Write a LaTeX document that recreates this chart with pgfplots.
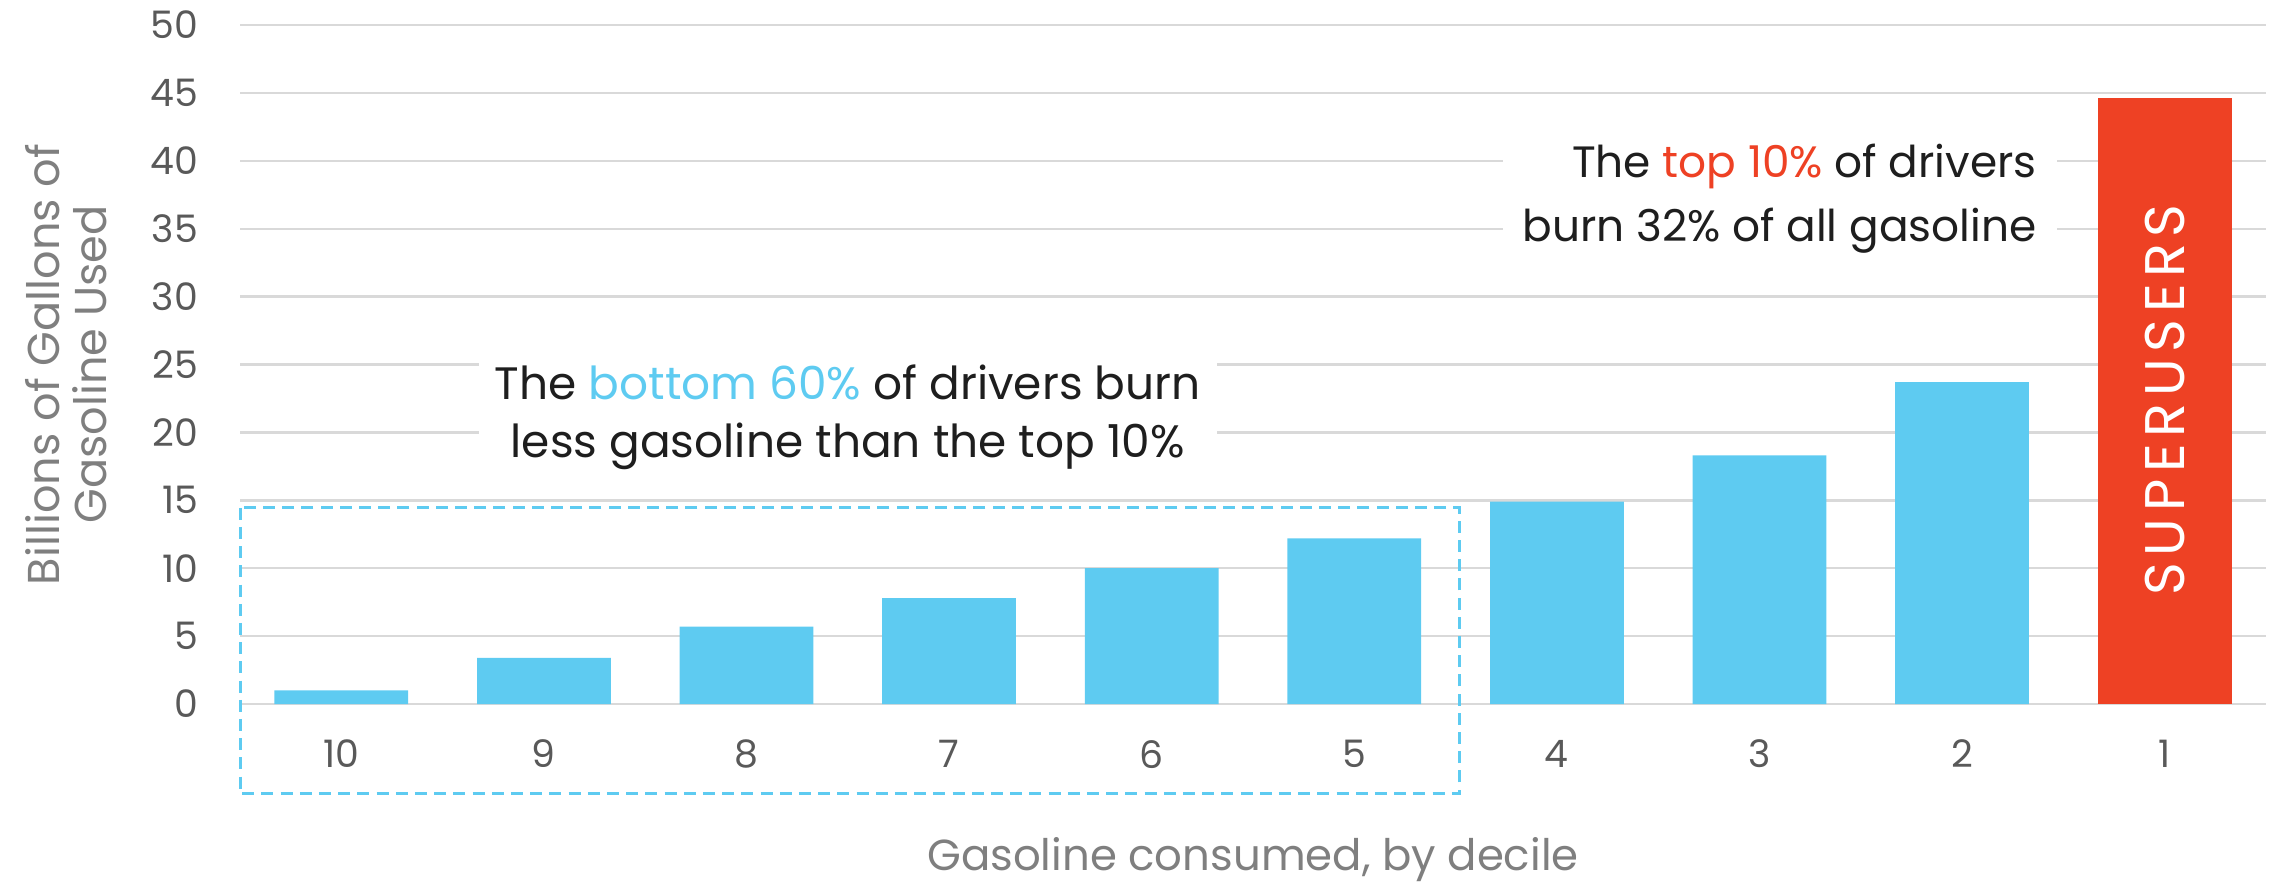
\documentclass[border=0pt]{standalone}
\usepackage{fontspec}
\setmainfont{Poppins}
\usepackage{pgfplots}
\pgfplotsset{compat=1.18}
\definecolor{barblue}{RGB}{94,203,241}
\definecolor{superred}{RGB}{238,65,36}
\definecolor{gridgray}{RGB}{217,217,217}
\definecolor{ticktext}{RGB}{89,89,89}
\definecolor{labeltext}{RGB}{127,127,127}
\definecolor{annot}{RGB}{30,30,30}

\begin{document}
\begin{tikzpicture}
\begin{axis}[
  at={(60bp,45.5bp)}, anchor=south west,
  scale only axis,
  width=506.5bp, height=169.75bp,
  xmin=-0.5, xmax=9.5, ymin=0, ymax=50,
  ytick={0,5,...,50},
  xtick={0,...,9},
  xticklabels={10,9,8,7,6,5,4,3,2,1},
  major tick length=0pt,
  axis line style={draw=none},
  ymajorgrids, grid style={gridgray, line width=0.6bp},
  /pgf/number format/assume math mode=true,
  tick label style={font=\fontsize{9.5}{9.5}\selectfont, text=ticktext},
  yticklabel style={xshift=-7bp},
  xticklabel style={yshift=-5.5bp},
  xlabel={Gasoline consumed, by decile},
  xlabel style={at={(axis description cs:0.5,0)}, anchor=center, yshift=-38.8bp,
    font=\fontsize{10.9}{12}\selectfont, text=labeltext},
  ylabel={Billions of Gallons of\\Gasoline Used},
  ylabel style={at={(axis description cs:-0.086,0.5)}, anchor=center, align=center,
    font=\fontsize{11.2}{11.8}\selectfont, text=labeltext},
  ybar, bar width=0.66, bar shift=0pt,
  clip=false,
]
  \addplot[fill=barblue, draw=none] coordinates {
    (0,1.0)(1,3.4)(2,5.7)(3,7.8)(4,10.0)(5,12.2)(6,14.9)(7,18.3)(8,23.7)};
  \addplot[fill=superred, draw=none] coordinates {(9,44.6)};

  \draw[barblue, line width=0.75bp, dash pattern=on 3bp off 1.8bp]
    (axis cs:-0.5,14.45) rectangle (axis cs:5.52,-6.6);

  \node[fill=white, inner xsep=4bp, inner ysep=1bp, align=center, text=annot,
    font=\fontsize{11.4}{14.5}\selectfont]
    at (axis cs:2.5,21.1)
    {The \textcolor{barblue}{bottom 60\%} of drivers burn\\less gasoline than the top 10\%};
  \node[fill=white, inner xsep=5bp, inner ysep=1bp, align=right, anchor=east, text=annot,
    font=\fontsize{11}{16}\selectfont]
    at (axis cs:8.47,37.2)
    {The \textcolor{superred}{top 10\%} of drivers\\burn 32\% of all gasoline};
  \node[rotate=90, text=white, font=\fontsize{14}{14}\selectfont\addfontfeatures{LetterSpace=12}]
    at (axis cs:9,22.4) {SUPERUSERS};
\end{axis}
\pgfresetboundingbox
\path[use as bounding box] (0,0) rectangle (570.5bp,221.5bp);
\end{tikzpicture}
\end{document}
